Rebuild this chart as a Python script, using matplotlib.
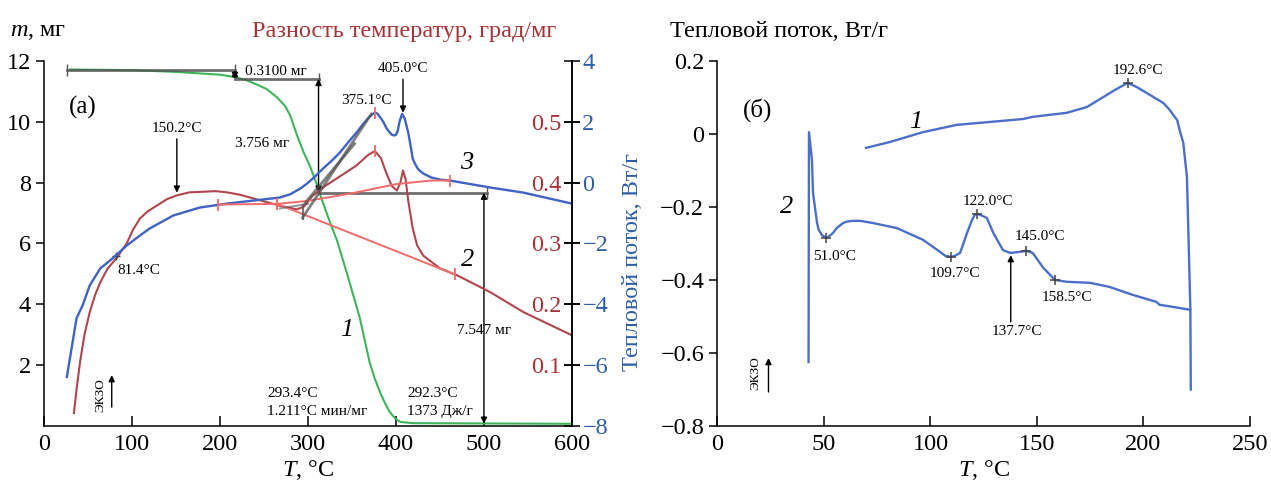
import numpy as np
import matplotlib
matplotlib.use('Agg')
import matplotlib.pyplot as plt

plt.rcParams['font.family'] = ['Liberation Serif', 'DejaVu Serif']
plt.rcParams['mathtext.fontset'] = 'custom'
plt.rcParams['mathtext.rm'] = 'Liberation Serif'
plt.rcParams['mathtext.it'] = 'Liberation Serif:italic'
plt.rcParams['axes.unicode_minus'] = True

# ---- panel (a): TG / DTA / DSC ----
# curve 1: mass, mg
t_mass = [30, 100, 150, 200, 217, 230, 240, 253, 265, 274, 280, 287, 295, 302, 310, 317,
          325, 333, 345, 359, 370, 376, 382, 388, 393, 399, 405, 420, 600]
mass = [11.72, 11.70, 11.64, 11.55, 11.47, 11.37, 11.25, 11.08, 10.80, 10.52, 10.20, 9.60,
        9.00, 8.56, 7.95, 7.34, 6.70, 6.10, 4.95, 3.54, 2.10, 1.55, 1.10, 0.72, 0.46, 0.25,
        0.13, 0.09, 0.07]

# curve 2: temperature difference, grad/mg
t_dta = [34, 37, 41, 46, 52, 58, 64, 72, 83, 94, 101, 109, 118, 128, 140, 151, 165, 181,
         195, 208, 223, 238, 253, 268, 287, 295, 305, 320, 336, 355, 368, 376, 383, 389,
         395, 401, 405, 408, 411, 414, 419, 424, 431, 450, 469, 507, 545, 600]
dta = [0.021, 0.060, 0.105, 0.150, 0.187, 0.215, 0.236, 0.258, 0.277, 0.300, 0.322, 0.341,
       0.353, 0.362, 0.373, 0.379, 0.384, 0.385, 0.386, 0.384, 0.380, 0.374, 0.368, 0.362,
       0.356, 0.360, 0.378, 0.395, 0.410, 0.428, 0.445, 0.452, 0.440, 0.416, 0.395, 0.387,
       0.400, 0.420, 0.405, 0.370, 0.325, 0.297, 0.280, 0.259, 0.248, 0.220, 0.187, 0.149]

# curve 3: heat flow, W/g
t_dsc = [26, 32, 37, 44, 52, 64, 78, 94, 109, 120, 147, 177, 208, 238, 268, 280, 291, 299,
         308, 317, 327, 336, 345, 355, 362, 368, 372, 376, 379, 382, 386, 389, 392, 395,
         398, 400, 402, 404, 407, 410, 414, 417, 419, 422, 425, 428, 431, 440, 450, 461,
         507, 545, 600]
dsc = [-6.39, -5.34, -4.46, -4.03, -3.38, -2.82, -2.49, -2.07, -1.74, -1.51, -1.08, -0.82,
       -0.69, -0.59, -0.49, -0.38, -0.20, -0.03, 0.20, 0.46, 0.72, 0.98, 1.30, 1.64, 1.90,
       2.10, 2.22, 2.30, 2.27, 2.15, 1.98, 1.80, 1.68, 1.58, 1.55, 1.57, 1.70, 2.00, 2.26,
       2.10, 1.64, 1.15, 0.79, 0.60, 0.45, 0.37, 0.30, 0.17, 0.10, 0.07, -0.16, -0.33, -0.69]

# baselines used by the instrument software
t_base3 = [198, 265, 300, 350, 400, 440, 461]
base3 = [-0.72, -0.70, -0.60, -0.35, -0.05, 0.07, 0.07]
t_base2 = [265, 467]
base2 = [0.365, 0.249]

# ---- panel (б): DSC of two samples ----
t_q1 = [69.8, 81, 96.5, 112.4, 128, 143.5, 148, 164, 173.5, 178, 182.8, 187, 192.6, 197,
        201.6, 205, 209.3, 212, 215.8, 217, 218.7, 219.5, 220.4, 221.0, 221.8, 222.0]
q1 = [-0.038, -0.022, 0.005, 0.025, 0.033, 0.041, 0.047, 0.058, 0.074, 0.090, 0.107, 0.122,
      0.140, 0.128, 0.112, 0.100, 0.085, 0.068, 0.038, 0.010, -0.025, -0.070, -0.118,
      -0.255, -0.436, -0.480]

t_q2 = [42.8, 43.0, 44.4, 44.9, 46.8, 47.5, 49.1, 51.0, 52.5, 54.3, 56.0, 59.0, 61.0,
        63.7, 67.0, 73.0, 84.3, 96.5, 104.5, 107.0, 109.7, 111.5, 113.9, 115.5, 117.2,
        119.5, 120.8, 122.0, 123.5, 126.5, 129.5, 134.0, 137.4, 142.0, 145.0, 148.0, 153.0,
        158.5, 164.0, 175.0, 184.0, 195.0, 206.0, 207.5, 214.0, 222.0, 222.2]
q2 = [-0.625, 0.005, -0.071, -0.162, -0.244, -0.262, -0.277, -0.285, -0.280, -0.271,
      -0.258, -0.244, -0.240, -0.238, -0.238, -0.244, -0.258, -0.290, -0.323, -0.334,
      -0.337, -0.334, -0.326, -0.300, -0.271, -0.236, -0.222, -0.219, -0.222, -0.230,
      -0.271, -0.318, -0.326, -0.323, -0.320, -0.326, -0.367, -0.400, -0.405, -0.408,
      -0.419, -0.441, -0.460, -0.468, -0.474, -0.482, -0.700]

peaks_b = [51.0, 109.7, 122.0, 145.0, 158.5]

GREEN = '#3db45a'
DRED = '#b0454c'
LRED = '#f26a6a'
BLUE = '#3f62c6'
BLUE2 = '#4b6fc9'
RED_TXT = '#a83236'
BLUE_TXT = '#2d5ea8'
GRAY = '#555555'

fig = plt.figure(figsize=(12.71, 4.84), dpi=100)
ax1 = fig.add_axes([0.0346, 0.12, 0.4154, 0.754])
ax_red = ax1.twinx()
ax_blue = ax1.twinx()

ax1.set_xlim(0, 600)
ax1.set_ylim(0, 12)
ax_red.set_ylim(0, 0.6)
ax_blue.set_ylim(-8, 4)

ax1.plot(t_mass, mass, color=GREEN, lw=1.5)
ax_red.plot(t_dta, dta, color=DRED, lw=1.5)
ax_blue.plot(t_dsc, dsc, color=BLUE, lw=1.7)
ax_blue.plot(t_base3, base3, color=LRED, lw=1.4)
ax_red.plot(t_base2, base2, color=LRED, lw=1.4)
ax_blue.plot([198, 265, 461, 376], [-0.72, -0.70, 0.07, 2.30], ls='none', marker='|',
             ms=8, color=LRED, mew=1.3)
ax_red.plot([265, 467, 376], [0.365, 0.249, 0.452], ls='none', marker='|', ms=8,
            color=LRED, mew=1.3)
ax_red.plot([81.4], [0.279], ls='none', marker='+', ms=6, color='#444444')

# tangent lines
ax_blue.plot([294, 372], [-1.15, 2.26], color=GRAY, lw=2, alpha=0.75)
ax_blue.plot([297, 353], [-0.66, 1.28], color=GRAY, lw=2, alpha=0.75)
ax_blue.plot([268, 300], [-0.85, -0.70], color=GRAY, lw=1.5, alpha=0.6)
ax_blue.plot([294, 294], [-1.2, -0.75], color=GRAY, lw=1.5, alpha=0.8)

# mass step construction
ax1.plot([26, 217], [11.70, 11.70], color=GRAY, lw=2, alpha=0.85)
ax1.plot([26, 217], [11.70, 11.70], ls='none', marker='|', ms=9, color=GRAY)
ax1.plot([217, 312], [11.41, 11.41], color=GRAY, lw=2, alpha=0.85)
ax1.plot([312], [11.41], ls='none', marker='|', ms=9, color=GRAY)
ax1.plot([312, 503], [7.67, 7.67], color=GRAY, lw=2, alpha=0.85)
ax1.plot([503], [7.67], ls='none', marker='|', ms=9, color=GRAY)
ap = dict(arrowstyle='<|-|>', color='black', lw=1.0, mutation_scale=9, shrinkA=0, shrinkB=0)
ax1.annotate('', xy=(217, 11.41), xytext=(217, 11.70), arrowprops=ap)
ax1.annotate('', xy=(312, 7.67), xytext=(312, 11.41), arrowprops=ap)
ax1.annotate('', xy=(500, 0.07), xytext=(500, 7.67), arrowprops=ap)
ap1 = dict(arrowstyle='-|>', color='black', lw=1.0, mutation_scale=9, shrinkA=0, shrinkB=0)
ax1.annotate('', xy=(151, 7.67), xytext=(151, 9.44), arrowprops=ap1)
ax1.annotate('', xy=(408, 10.30), xytext=(408, 11.40), arrowprops=ap1)
ax1.annotate('', xy=(77, 1.67), xytext=(77, 0.62), arrowprops=ap1)

fs = 11
ax1.text(229, 11.67, '0.3100 мг', fontsize=fs, va='center')
ax1.text(217, 9.28, '3.756 мг', fontsize=fs, va='center')
ax1.text(151, 9.77, '150.2°C', fontsize=fs, ha='center', va='center')
ax1.text(83, 5.11, '81.4°C', fontsize=fs, va='center')
ax1.text(367, 10.69, '375.1°C', fontsize=fs, ha='center', va='center')
ax1.text(408, 11.74, '405.0°C', fontsize=fs, ha='center', va='center')
ax1.text(500, 3.15, '7.547 мг', fontsize=fs, ha='center', va='center')
ax1.text(254, 1.08, '293.4°C', fontsize=fs, va='center')
ax1.text(254, 0.49, '1.211°C мин/мг', fontsize=fs, va='center')
ax1.text(413, 1.08, '292.3°C', fontsize=fs, va='center')
ax1.text(413, 0.49, '1373 Дж/г', fontsize=fs, va='center')
ax1.text(64, 1.0, 'ЭКЗО', fontsize=9.5, rotation=90, ha='center', va='center')
ax1.text(44, 10.46, '(a)', fontsize=18, ha='center', va='center')
ax1.text(344, 3.15, '1', fontsize=19, style='italic', ha='center', va='center')
ax1.text(481, 5.44, '2', fontsize=19, style='italic', ha='center', va='center')
ax1.text(480, 8.66, '3', fontsize=19, style='italic', ha='center', va='center')

# axes styling (a)
tfs = 17.5
for s in ['top', 'right']:
    ax1.spines[s].set_visible(False)
for s in ['top', 'right', 'bottom']:
    ax_red.spines[s].set_visible(False)
for s in ['top', 'left', 'bottom']:
    ax_blue.spines[s].set_visible(False)
ax_red.spines['left'].set_position(('axes', 1.0))
ax_red.yaxis.tick_left()
ax_red.yaxis.set_label_position('left')

ax1.set_xticks(range(0, 601, 100))
ax1.set_yticks(range(2, 13, 2))
ax1.tick_params(axis='x', direction='in', length=7, width=1.1, labelsize=tfs, pad=6)
ax1.tick_params(axis='y', direction='out', length=6, width=1.1, labelsize=tfs)
ax_red.set_yticks([0.1, 0.2, 0.3, 0.4, 0.5])
ax_red.tick_params(axis='y', direction='inout', length=11, width=1.1, labelsize=tfs,
                   labelcolor=RED_TXT, pad=2)
ax_blue.set_yticks(range(-8, 5, 2))
ax_blue.tick_params(axis='y', direction='inout', length=11, width=1.1, labelsize=tfs,
                    labelcolor=BLUE_TXT, pad=2)
ax_blue.set_ylabel('Тепловой поток, Вт/г', color=BLUE_TXT, fontsize=tfs, labelpad=6)
ax_blue.yaxis.set_label_coords(1.095, 0.45)
ax1.set_xlabel('$T$, °C', fontsize=tfs, labelpad=2)
for a in (ax1, ax_red, ax_blue):
    for s in a.spines.values():
        s.set_linewidth(1.1)

fig.text(0.008, 0.935, '$m$, мг', fontsize=tfs, va='center')
fig.text(0.318, 0.935, 'Разность температур, град/мг', fontsize=tfs, va='center',
         ha='center', color=RED_TXT)

# ---- panel (б) ----
ax2 = fig.add_axes([0.5644, 0.12, 0.4191, 0.754])
ax2.set_xlim(0, 250)
ax2.set_ylim(-0.8, 0.2)
ax2.plot(t_q1, q1, color=BLUE2, lw=1.7)
ax2.plot(t_q2, q2, color=BLUE2, lw=1.7)
ax2.plot([192.6], [0.140], ls='none', marker='+', ms=7, color='#444444', mew=1.1)
ax2.plot(peaks_b, np.interp(peaks_b, t_q2[2:], q2[2:]), ls='none', marker='+', ms=7,
         color='#444444', mew=1.1)

ax2.text(197.6, 0.175, '192.6°C', fontsize=fs, ha='center', va='center')
ax2.text(55, -0.337, '51.0°C', fontsize=fs, ha='center', va='center')
ax2.text(111.5, -0.381, '109.7°C', fontsize=fs, ha='center', va='center')
ax2.text(127, -0.186, '122.0°C', fontsize=fs, ha='center', va='center')
ax2.text(151.5, -0.282, '145.0°C', fontsize=fs, ha='center', va='center')
ax2.text(164, -0.449, '158.5°C', fontsize=fs, ha='center', va='center')
ax2.text(140.7, -0.54, '137.7°C', fontsize=fs, ha='center', va='center')
ax2.annotate('', xy=(137.7, -0.332), xytext=(137.7, -0.515), arrowprops=ap1)
ax2.annotate('', xy=(24, -0.614), xytext=(24, -0.707), arrowprops=ap1)
ax2.text(17.8, -0.655, 'ЭКЗО', fontsize=9.5, rotation=90, ha='center', va='center')
ax2.text(19, 0.066, '(б)', fontsize=18, ha='center', va='center')
ax2.text(93, 0.033, '1', fontsize=19, style='italic', ha='center', va='center')
ax2.text(32.6, -0.2, '2', fontsize=19, style='italic', ha='center', va='center')

for s in ['top', 'right']:
    ax2.spines[s].set_visible(False)
for s in ax2.spines.values():
    s.set_linewidth(1.1)
ax2.set_xticks(range(0, 251, 50))
ax2.set_yticks([-0.8, -0.6, -0.4, -0.2, 0, 0.2])
ax2.set_yticklabels(['−0.8', '−0.6', '−0.4', '−0.2', '0', '0.2'])
ax2.tick_params(axis='x', direction='in', length=7, width=1.1, labelsize=tfs, pad=6)
ax2.tick_params(axis='y', direction='out', length=6, width=1.1, labelsize=tfs)
ax2.set_xlabel('$T$, °C', fontsize=tfs, labelpad=2)
fig.text(0.527, 0.935, 'Тепловой поток, Вт/г', fontsize=tfs, va='center')

fig.savefig('out.png', dpi=100)
